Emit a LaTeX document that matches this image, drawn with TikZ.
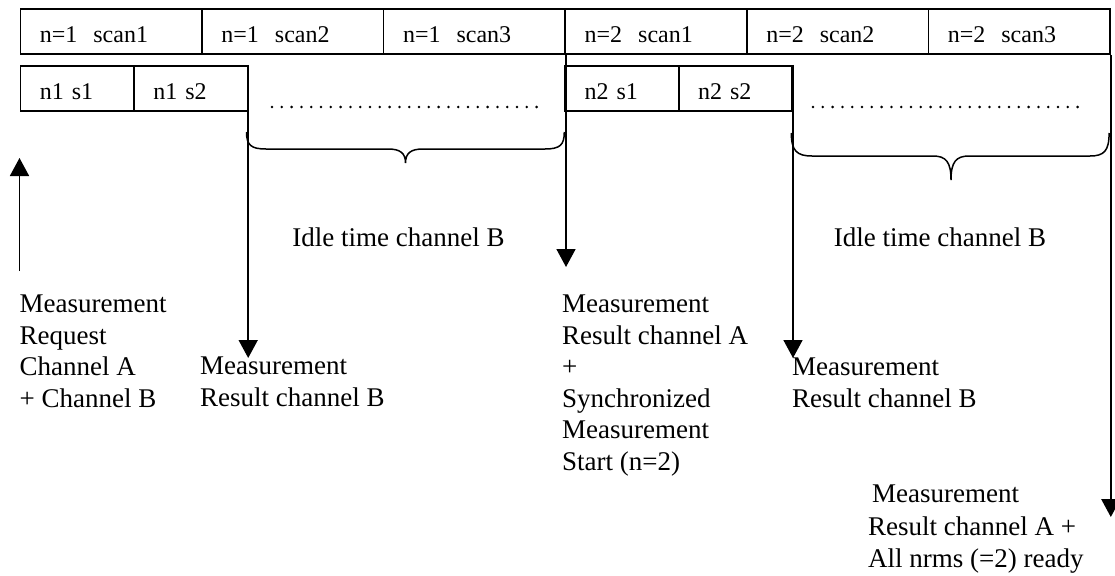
\documentclass[tikz,border=0pt]{standalone}
\usepackage{fontspec}
\setmainfont{Liberation Serif}
\usetikzlibrary{arrows.meta,calc}
\begin{document}
\begin{tikzpicture}[x=1pt,y=-1pt,
  box/.style={draw, line width=1.7pt, rectangle, anchor=north west, inner xsep=19.5pt, inner ysep=0pt,
    text height=33.8pt, text depth=11.2pt, align=left, font=\fontsize{24}{28}\selectfont},
  topbox/.style={box, text width=142.6pt},
  subbox/.style={box, text width=74.5pt},
  lbl/.style={anchor=north west, inner sep=0pt, align=left, font=\fontsize{27}{31.5}\selectfont},
  idle/.style={anchor=base, inner sep=0pt, font=\fontsize{27}{31.5}\selectfont},
  conn/.style={line width=1.7pt, -{Triangle[width=19pt,length=18pt]}},
  bracepath/.style={line width=1.5pt},
  dotline/.style={line width=2.8pt, line cap=round, dash pattern=on 0pt off 9.8pt}]
\useasboundingbox (0,0) rectangle (1115,575);

% top row
\node[topbox] (s11) at (19.5,8.3) {n=1\ \ scan1};
\node[topbox] (s12) at (201.1,8.3) {n=1\ \ scan2};
\node[topbox] (s13) at (382.7,8.3) {n=1\ \ scan3};
\node[topbox] (s21) at (564.3,8.3) {n=2\ \ scan1};
\node[topbox] (s22) at (745.9,8.3) {n=2\ \ scan2};
\node[topbox] (s23) at (927.5,8.3) {n=2\ \ scan3};

% second row
\node[subbox] (a11) at (19.5,65) {n1 s1};
\node[subbox] (a12) at (133,65) {n1 s2};
\node[subbox] (a21) at (564.3,65) {n2 s1};
\node[subbox] (a22) at (677.8,65) {n2 s2};

% dotted idle markers
\coordinate (d1a) at (272,107);
\coordinate (d1b) at (543,107);
\coordinate (d2a) at (813,107);
\coordinate (d2b) at (1087,107);
\draw[dotline] (d1a) -- (d1b);
\draw[dotline] (d2a) -- (d2b);

% braces
\draw[bracepath] (246.5,132) .. controls (246.5,145) and (251,149) .. (266,149)
  -- (388,149) .. controls (400,149) and (405.5,153) .. (405.5,163)
  .. controls (405.5,153) and (411,149) .. (423,149)
  -- (545,149) .. controls (560,149) and (564.3,145) .. (564.3,132);
\draw[bracepath] (791.3,133) .. controls (791.3,151) and (797,156) .. (812,156)
  -- (933,156) .. controls (946,156) and (951,162) .. (951,180)
  .. controls (951,162) and (956,156) .. (969,156)
  -- (1090,156) .. controls (1104,156) and (1109.1,151) .. (1109.1,133);

% arrows
\coordinate (y358) at (0,358);
\coordinate (y267) at (0,267);
\coordinate (y517) at (0,517);
\coordinate (upTail) at (19.5,271);
\coordinate (upTip) at (19.5,158);
\coordinate (tipB1) at (a12.north east |- y358);
\coordinate (tipA1) at (s13.south east |- y267);
\coordinate (tipB2) at (a22.north east |- y358);
\coordinate (tipA2) at (s23.south east |- y517);
\draw[conn] (upTail) -- (upTip);
\draw[conn] (a12.north east) -- (tipB1);
\draw[conn] (s13.south east) -- (tipA1);
\draw[conn] (a22.north east) -- (tipB2);
\draw[conn] (s23.south east) -- (tipA2);

% labels
\node[idle] (idle1) at (398.5,246) {Idle time channel B};
\node[idle] (idle2) at (940,246) {Idle time channel B};
\node[lbl] (lreq) at (19.5,295) {Measurement\\Request\\Channel A\\+ Channel B};
\node[lbl] (lresB1) at (200,357) {Measurement\\Result channel B};
\node[lbl] (lsync) at (562,295) {Measurement\\Result channel A\\+\\Synchronized\\Measurement\\Start (n=2)};
\node[lbl] (lresB2) at (792,358) {Measurement\\Result channel B};
\node[lbl, font=\fontsize{27}{32.5}\selectfont] (lall) at (868,485) {\hspace{4pt}Measurement\\Result channel A +\\All nrms (=2) ready};
\end{tikzpicture}
\end{document}
